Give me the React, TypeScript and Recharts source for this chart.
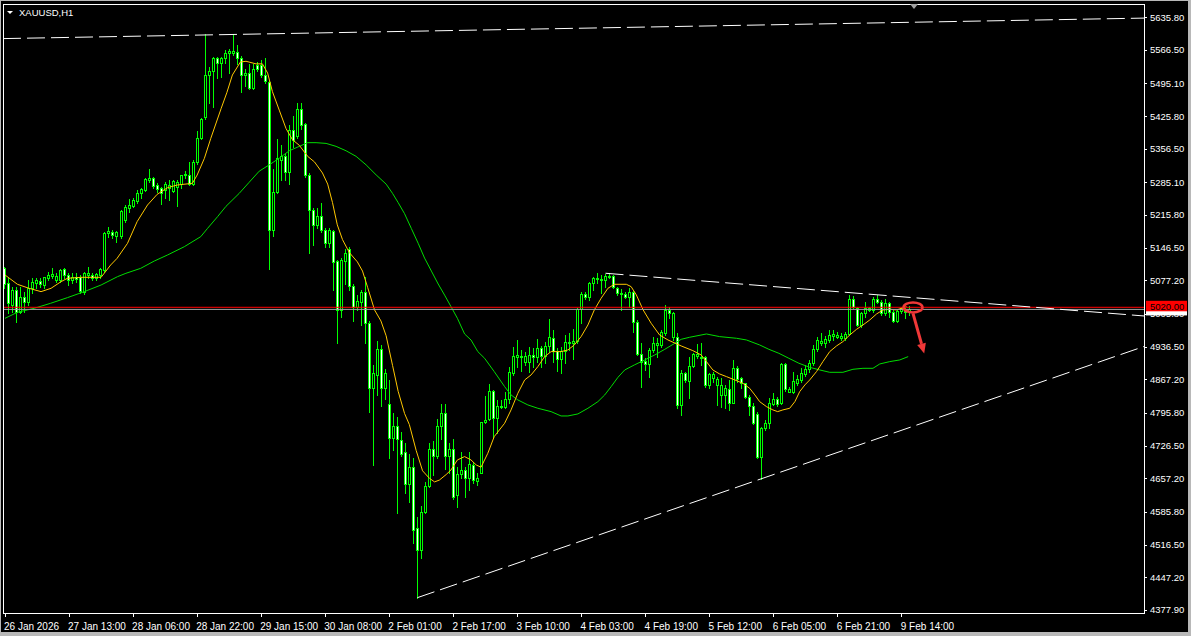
import React from 'react'
import { ComposedChart, Bar, Line, XAxis, YAxis, ReferenceLine, ReferenceDot } from 'recharts'

// XAUUSD H1 candles (26 Jan 20:00 .. 9 Feb 16:00)
const OPEN = [
  5104.1, 5070.9, 5024.9, 5056.7, 5010.8, 5042.6, 5032.0, 5060.3, 5070.9, 5076.5,
  5067.4, 5082.9, 5087.1, 5077.9, 5077.9, 5100.6, 5088.6, 5077.9, 5085.0, 5085.0,
  5053.2, 5088.6, 5088.6, 5081.5, 5088.6, 5099.2, 5176.9, 5179.0, 5172.0, 5172.0,
  5205.2, 5229.9, 5235.6, 5245.5, 5261.8, 5268.8, 5290.1, 5293.6, 5279.4, 5272.4,
  5268.8, 5272.4, 5266.7, 5275.9, 5281.5, 5300.6, 5300.6, 5281.5, 5327.5, 5378.4,
  5424.4, 5512.7, 5521.2, 5548.1, 5537.5, 5548.1, 5558.7, 5559.9, 5562.3, 5549.7,
  5512.8, 5516.8, 5485.4, 5534.0, 5534.0, 5512.8, 5497.2, 5183.2, 5265.6, 5332.4,
  5340.2, 5306.5, 5395.1, 5383.4, 5439.9, 5408.5, 5301.0, 5226.4, 5195.0, 5213.0,
  5184.8, 5155.8, 5180.9, 5118.1, 5014.5, 5118.9, 5144.0, 5065.5, 5020.8, 5031.8,
  5052.2, 4987.0, 4849.7, 4877.2, 4932.1, 4849.7, 4814.4, 4743.7, 4767.3, 4738.3,
  4712.4, 4645.6, 4681.0, 4551.5, 4504.4, 4586.8, 4641.7, 4720.2, 4704.5, 4767.3,
  4794.8, 4704.5, 4720.2, 4622.0, 4666.5, 4675.0, 4657.3, 4685.6, 4652.4, 4669.3,
  4776.1, 4782.5, 4842.6, 4784.6, 4809.3, 4809.3, 4824.9, 4881.4, 4914.0, 4914.0,
  4903.4, 4903.4, 4918.9, 4915.4, 4933.0, 4916.8, 4938.0, 4955.7, 4928.1, 4909.7,
  4928.1, 4943.6, 4943.6, 4948.6, 5015.8, 5048.3, 5042.6, 5070.9, 5079.4, 5078.0,
  5078.0, 5085.0, 5086.5, 5060.3, 5048.3, 5048.3, 5041.2, 5053.2, 4989.6, 4920.3,
  4906.2, 4899.8, 4929.5, 4940.1, 4940.1, 4966.3, 5014.4, 4957.8, 4957.8, 4812.9,
  4881.4, 4864.5, 4895.6, 4916.8, 4915.4, 4914.0, 4855.3, 4869.4, 4855.3, 4834.1,
  4834.1, 4846.1, 4817.8, 4890.6, 4869.4, 4858.8, 4829.1, 4811.4, 4793.8, 4703.3,
  4763.4, 4774.0, 4815.0, 4824.9, 4816.4, 4899.1, 4841.1, 4841.1, 4860.2, 4865.9,
  4878.6, 4888.5, 4901.3, 4930.9, 4945.1, 4943.6, 4950.7, 4959.9, 4957.8, 4954.3,
  4954.3, 4963.4, 5037.0, 5017.9, 4982.5, 5007.3, 5014.4, 5014.4, 5037.0, 5032.0,
  5007.3, 5028.5, 5010.8, 4991.7, 5012.9, 5015.8, 5010.8,
]
const HIGH = [
  5106.2, 5081.5, 5063.8, 5063.8, 5063.8, 5053.2, 5077.9, 5081.5, 5081.5, 5081.5,
  5085.0, 5095.6, 5102.7, 5092.1, 5100.6, 5102.7, 5092.1, 5092.1, 5092.1, 5088.6,
  5095.6, 5104.8, 5092.1, 5092.1, 5102.7, 5180.5, 5191.1, 5184.0, 5181.9, 5226.4,
  5237.0, 5249.7, 5251.2, 5268.8, 5273.8, 5293.6, 5313.4, 5297.1, 5283.0, 5275.9,
  5286.5, 5290.1, 5290.1, 5290.1, 5300.6, 5309.1, 5327.5, 5332.5, 5394.0, 5420.8,
  5599.0, 5530.4, 5551.6, 5551.6, 5551.6, 5565.8, 5567.9, 5599.2, 5575.6, 5552.1,
  5524.6, 5536.4, 5536.4, 5540.3, 5544.2, 5549.7, 5501.1, 5312.7, 5377.1, 5363.7,
  5348.0, 5406.9, 5426.5, 5452.4, 5452.4, 5410.8, 5304.9, 5230.3, 5230.3, 5242.1,
  5188.7, 5188.7, 5183.2, 5120.5, 5124.4, 5144.0, 5147.9, 5069.4, 5045.9, 5057.7,
  5085.1, 4991.0, 4896.8, 4947.8, 4940.0, 4888.9, 4865.4, 4794.8, 4786.9, 4755.5,
  4732.0, 4708.4, 4700.6, 4575.0, 4598.6, 4649.6, 4732.0, 4735.9, 4783.0, 4814.4,
  4814.4, 4732.0, 4739.8, 4682.1, 4713.9, 4682.1, 4713.9, 4692.7, 4667.9, 4777.5,
  4832.0, 4857.4, 4844.7, 4823.5, 4823.5, 4841.1, 4894.2, 4936.6, 4950.7, 4929.5,
  4926.0, 4936.6, 4933.0, 4952.8, 4938.0, 4947.2, 4994.6, 4971.9, 4933.0, 4935.2,
  4961.3, 4966.3, 4974.0, 5017.9, 5053.2, 5053.2, 5074.4, 5085.0, 5092.1, 5088.6,
  5090.7, 5092.1, 5088.6, 5063.8, 5058.2, 5053.2, 5060.3, 5055.4, 4993.1, 4943.6,
  4911.8, 4933.0, 4957.8, 4954.3, 4971.9, 5025.0, 5021.4, 5010.8, 4964.9, 4887.1,
  4883.6, 4915.4, 4922.4, 4941.5, 4943.6, 4916.8, 4881.4, 4883.6, 4872.9, 4869.4,
  4855.3, 4865.9, 4908.3, 4895.6, 4872.9, 4860.2, 4834.1, 4816.4, 4798.7, 4766.9,
  4781.0, 4827.0, 4837.6, 4829.1, 4901.3, 4901.3, 4851.7, 4883.6, 4876.5, 4890.6,
  4897.7, 4908.3, 4940.1, 4957.8, 4964.9, 4959.2, 4971.9, 4971.9, 4968.4, 4964.9,
  4968.4, 5046.2, 5044.0, 5021.4, 5010.8, 5032.0, 5021.4, 5042.6, 5046.2, 5035.6,
  5037.0, 5032.0, 5014.4, 5014.4, 5021.4, 5017.9, 5022.8,
]
const LOW = [
  5060.3, 5007.2, 5010.8, 4989.6, 5008.0, 5010.8, 5024.9, 5049.7, 5060.3, 5063.8,
  5060.3, 5077.9, 5081.5, 5074.4, 5074.4, 5081.5, 5067.4, 5070.9, 5074.4, 5049.7,
  5047.5, 5081.5, 5077.9, 5077.9, 5081.5, 5095.6, 5169.9, 5166.3, 5157.8, 5166.3,
  5201.7, 5222.9, 5233.5, 5240.6, 5251.2, 5266.7, 5286.5, 5272.4, 5265.3, 5239.1,
  5251.2, 5247.6, 5265.3, 5234.9, 5273.8, 5293.6, 5279.4, 5279.4, 5323.3, 5377.0,
  5419.4, 5452.7, 5445.6, 5505.7, 5509.2, 5537.5, 5517.7, 5556.0, 5536.4, 5477.5,
  5489.3, 5483.8, 5483.8, 5520.7, 5508.9, 5494.8, 5100.8, 5171.5, 5261.7, 5289.2,
  5289.2, 5281.3, 5359.8, 5379.4, 5399.1, 5297.0, 5136.2, 5151.8, 5187.2, 5179.3,
  5147.9, 5147.9, 5057.7, 4943.9, 4998.8, 5069.4, 5057.7, 4991.0, 5014.5, 4983.1,
  4943.9, 4798.7, 4684.9, 4834.0, 4810.5, 4826.2, 4700.6, 4716.3, 4582.9, 4704.5,
  4626.0, 4606.4, 4520.1, 4404.0, 4488.7, 4582.9, 4637.8, 4665.3, 4700.6, 4739.8,
  4677.0, 4669.2, 4614.3, 4597.2, 4657.3, 4618.4, 4632.6, 4648.1, 4643.2, 4667.9,
  4774.0, 4781.0, 4745.7, 4752.8, 4805.8, 4805.8, 4816.4, 4876.5, 4894.2, 4885.7,
  4898.0, 4883.6, 4894.2, 4904.8, 4894.2, 4901.3, 4926.0, 4904.8, 4885.7, 4881.4,
  4902.6, 4929.5, 4910.4, 4943.6, 4986.1, 5037.0, 5035.6, 5056.8, 5070.9, 5049.7,
  5063.8, 5081.5, 5060.3, 5046.2, 5014.4, 5039.1, 5021.4, 4968.4, 4918.9, 4850.3,
  4887.1, 4873.0, 4926.0, 4915.4, 4936.6, 4961.3, 4996.7, 4950.7, 4805.8, 4791.6,
  4862.3, 4827.0, 4894.2, 4911.8, 4897.7, 4851.7, 4848.2, 4862.3, 4812.9, 4809.3,
  4805.8, 4802.3, 4816.4, 4862.3, 4848.2, 4827.0, 4791.6, 4772.6, 4699.7, 4655.2,
  4759.8, 4763.4, 4812.9, 4810.7, 4815.0, 4843.3, 4839.7, 4839.0, 4855.3, 4862.3,
  4874.4, 4883.6, 4897.7, 4928.1, 4940.1, 4935.2, 4947.2, 4950.7, 4954.3, 4950.7,
  4950.7, 4961.3, 5017.9, 4980.4, 4979.0, 5000.2, 5012.9, 5010.8, 5028.5, 5003.7,
  5003.7, 5000.2, 4989.6, 4989.6, 5007.3, 4996.7, 5003.7,
]
const CLOSE = [
  5068.8, 5028.5, 5056.7, 5010.8, 5042.6, 5032.0, 5060.3, 5074.4, 5077.9, 5068.8,
  5083.6, 5088.6, 5090.0, 5087.1, 5099.2, 5088.6, 5077.9, 5085.0, 5080.1, 5054.6,
  5092.1, 5092.1, 5081.5, 5090.0, 5100.6, 5176.9, 5181.9, 5173.4, 5180.5, 5224.3,
  5233.5, 5237.0, 5247.6, 5261.8, 5271.0, 5292.2, 5295.0, 5278.0, 5270.3, 5261.8,
  5281.5, 5279.4, 5287.9, 5286.5, 5300.6, 5302.0, 5281.5, 5328.9, 5378.4, 5418.7,
  5512.7, 5521.2, 5548.1, 5537.5, 5549.5, 5558.7, 5563.7, 5563.9, 5549.7, 5512.8,
  5516.8, 5485.4, 5524.6, 5524.6, 5512.8, 5499.5, 5183.2, 5264.1, 5336.3, 5340.2,
  5306.5, 5395.1, 5375.5, 5439.9, 5406.9, 5301.0, 5226.4, 5195.0, 5214.6, 5184.8,
  5155.8, 5183.2, 5116.5, 5014.5, 5120.5, 5136.2, 5065.5, 5020.8, 5034.1, 5052.2,
  4987.0, 4849.7, 4881.1, 4932.1, 4849.7, 4881.1, 4743.7, 4767.3, 4739.8, 4708.4,
  4645.6, 4681.0, 4547.6, 4504.4, 4586.8, 4641.7, 4720.2, 4704.5, 4767.3, 4794.8,
  4704.5, 4720.2, 4618.2, 4666.5, 4675.0, 4657.3, 4687.7, 4653.8, 4657.3, 4776.1,
  4781.0, 4842.6, 4784.6, 4810.7, 4811.4, 4824.9, 4882.1, 4917.5, 4918.2, 4916.8,
  4917.5, 4918.9, 4915.4, 4933.0, 4917.5, 4938.0, 4956.4, 4928.1, 4909.7, 4928.1,
  4945.8, 4947.2, 4948.6, 5015.8, 5048.3, 5042.6, 5070.9, 5081.5, 5081.5, 5080.1,
  5086.5, 5086.5, 5063.8, 5049.7, 5051.1, 5041.2, 5053.2, 4989.6, 4921.0, 4904.8,
  4899.8, 4929.5, 4943.6, 4945.1, 4968.4, 5014.4, 5007.3, 5007.3, 4812.9, 4881.4,
  4865.9, 4895.6, 4920.3, 4920.3, 4911.8, 4855.3, 4877.9, 4877.9, 4867.3, 4855.3,
  4848.2, 4817.8, 4890.6, 4868.0, 4858.8, 4829.1, 4811.4, 4775.4, 4703.3, 4763.4,
  4774.0, 4816.4, 4824.9, 4815.0, 4899.1, 4846.1, 4846.1, 4863.8, 4867.3, 4880.0,
  4888.5, 4901.3, 4930.9, 4950.7, 4948.6, 4952.8, 4961.3, 4963.4, 4961.3, 4959.2,
  4963.4, 5037.0, 5021.4, 4982.5, 5007.3, 5017.9, 5017.9, 5037.0, 5032.0, 5007.3,
  5028.5, 5010.8, 4991.7, 5012.9, 5017.9, 5010.8, 5015.5,
]

// moving averages as [bar index, price]
const FAST_MA: [number, number][] = [
  [0, 5088.6], [3.1, 5068.8], [6, 5060.3], [9, 5053.2], [11.5, 5060.3], [14, 5074.4],
  [15.6, 5081.5], [19, 5083.6], [24, 5083.6], [26.4, 5109.8], [28, 5123.9], [30.6, 5155.7],
  [33, 5201.7], [35.6, 5237.0], [38, 5259.6], [40.6, 5273.8], [43, 5279.4], [46.8, 5283.0],
  [48, 5300.6], [49.8, 5336.0], [51.4, 5378.4], [54, 5442.1], [55.4, 5475], [56.8, 5512.8],
  [58.8, 5540.3], [60.2, 5541.9], [62.7, 5536.4], [64.3, 5536.4], [65.6, 5516.8], [66.8, 5477.5],
  [68.5, 5438.3], [70.2, 5399.1], [71.8, 5375.5], [73.5, 5363.7], [75.6, 5340.2], [77.3, 5328.4],
  [79.3, 5304.9], [80.6, 5281.3], [81.8, 5242.1], [83, 5195.0], [84.3, 5163.6], [86, 5136.2],
  [88, 5116.5], [89.3, 5096.9], [90.6, 5061.6], [92.3, 5014.5], [93.9, 4991.0], [95.2, 4959.6],
  [96.8, 4896.8], [98.2, 4841.8], [99.8, 4794.8], [101, 4771.2], [102.7, 4716.3], [104.3, 4673.1],
  [106, 4657.4], [107.3, 4649.6], [108.5, 4653.5], [110.2, 4665.3], [111.4, 4675.0], [113, 4696.2],
  [114.8, 4703.3], [116.4, 4696.2], [117.7, 4685.6], [118.9, 4680.7], [120.6, 4710.3], [122.2, 4745.7],
  [124.8, 4774.0], [126.4, 4802.3], [128.1, 4837.6], [129.8, 4865.9], [131.4, 4876.5], [133.1, 4894.2],
  [134.8, 4915.4], [136.4, 4926.0], [138.9, 4926.0], [140.6, 4929.5], [142.2, 4940.1], [143.9, 4957.8],
  [145.6, 4982.5], [147.2, 5014.4], [148.9, 5039.1], [150.6, 5060.3], [152.2, 5068.8], [155.2, 5068.8],
  [156.4, 5063.8], [157.7, 5046.2], [159.4, 5014.4], [161.4, 4986.1], [163.5, 4961.3], [165.6, 4950.7],
  [168.9, 4938.0], [171.8, 4928.1], [173.9, 4918.9], [175.2, 4904.8], [176.8, 4887.1], [178.5, 4878.6],
  [180.2, 4873.0], [182.3, 4865.9], [184.3, 4858.8], [186, 4848.2], [187.3, 4834.1], [188.5, 4819.9],
  [190.2, 4809.3], [191.8, 4802.3], [193, 4798.7], [194.3, 4802.3], [196, 4805.8], [197.3, 4819.9],
  [198.5, 4841.1], [199.8, 4855.3], [201, 4865.9], [202.7, 4883.6], [204.3, 4904.8], [206, 4926.0],
  [207.7, 4938.0], [209.3, 4947.2], [211, 4961.3], [212.7, 4973.3], [214.3, 4982.5], [216, 4993.1],
  [217.7, 5005.9], [219.3, 5014.4], [221, 5015.8], [222.7, 5014.4], [225.2, 5021.4],
]
const SLOW_MA: [number, number][] = [
  [0, 4996.6], [3.1, 5009.4], [7.3, 5017.9], [11.4, 5028.5], [15.6, 5040.5], [19.8, 5053.2],
  [24, 5067.3], [28.1, 5085.0], [30.2, 5092.1], [33.9, 5102.7], [37.3, 5118.2], [40.6, 5131.0],
  [44.8, 5148.6], [48.9, 5169.9], [50.6, 5187.5], [53.1, 5212.3], [55.2, 5234.2], [58.5, 5261.7],
  [61, 5285.3], [63.5, 5308.8], [66, 5322.1], [68.5, 5336.3], [71, 5352.0], [73.5, 5361.4],
  [75.6, 5369.2], [77.7, 5369.2], [80.2, 5367.7], [82.7, 5361.4], [85.2, 5352.0], [87.7, 5340.2],
  [90.2, 5322.1], [92.7, 5300.9], [95.2, 5281.3], [96.8, 5261.7], [98.2, 5242.1], [99.8, 5218.6],
  [101.5, 5187.2], [103.2, 5155.8], [104.8, 5124.4], [106.5, 5096.9], [108.2, 5069.4], [109.8, 5045.9],
  [111.4, 5021.4], [113, 4996.7], [114.8, 4963.4], [116.4, 4950.7], [118.1, 4926.0], [119.8, 4911.8],
  [122.2, 4883.6], [124.8, 4851.7], [126.4, 4834.1], [128.1, 4823.5], [130.6, 4812.9], [133.1, 4805.8],
  [136.4, 4798.7], [138.9, 4789.5], [140.6, 4789.5], [143.1, 4793.8], [145.6, 4805.8], [148.1, 4819.9],
  [149.8, 4834.1], [151.4, 4851.7], [153.1, 4871.5], [154.8, 4887.1], [157.2, 4897.7], [159.8, 4908.3],
  [162.3, 4918.9], [164.8, 4930.9], [167.3, 4943.6], [168.9, 4952.1], [171, 4956.4], [175.2, 4963.4],
  [178.5, 4957.8], [182.7, 4954.3], [185.2, 4950.7], [188.5, 4940.1], [190.8, 4930.9], [193.3, 4922.4],
  [195.8, 4911.8], [198.3, 4901.3], [201, 4892.7], [203.5, 4887.1], [206, 4882.1], [209.3, 4882.1],
  [211.8, 4888.5], [214.3, 4890.6], [216.8, 4890.6], [218.5, 4899.8], [221, 4904.8], [223.5, 4908.3],
  [225.6, 4915.4],
]

const PRICE_TICKS = [
  5635.8, 5566.5, 5495.1, 5425.8, 5356.5, 5285.1, 5215.8, 5146.5, 5077.2, 5005.8,
  4936.5, 4867.2, 4795.8, 4726.5, 4657.2, 4585.8, 4516.5, 4447.2, 4377.9,
]
const TIME_LABELS = [
  '26 Jan 2026', '27 Jan 13:00', '28 Jan 06:00', '28 Jan 22:00', '29 Jan 15:00',
  '30 Jan 08:00', '2 Feb 01:00', '2 Feb 17:00', '3 Feb 10:00', '4 Feb 03:00',
  '4 Feb 19:00', '5 Feb 12:00', '6 Feb 05:00', '6 Feb 21:00', '9 Feb 14:00',
]
const ALERT_PRICE = 5020
const BID_PRICE = 5015.5

// trend lines, [bar index, price] pairs
const TREND_TOP: [number, number][] = [[-0.5, 5590.0], [284.5, 5633.5]]
const TREND_DOWN: [number, number][] = [[150, 5092.2], [284.5, 5001.6]]
const TREND_UP: [number, number][] = [[103, 4404.0], [284.5, 4936.9]]
const MARK_POINT: [number, number] = [226.8, 5019.7]
const ARROW: [number, number][] = [[226.8, 5007], [229.6, 4922]]

const SLOTS = 285
const GREEN = '#00ff00'
const FONT = 'Liberation Sans, Arial, sans-serif'

const rows = Array.from({ length: SLOTS }, (_, i) =>
  i < OPEN.length ? { i, o: OPEN[i], h: HIGH[i], l: LOW[i], c: CLOSE[i] } : { i }
)
const fastData = FAST_MA.map(([i, v]) => ({ i, v }))
const slowData = SLOW_MA.map(([i, v]) => ({ i, v }))
const seg = (s: [number, number][]) => s.map(([x, y]) => ({ x, y }))
const timeTicks = TIME_LABELS.map((_, k) => k * 16)

function Candle(props: any) {
  const { x, y, width, height, payload } = props
  if (!payload || payload.h == null || y == null) return <g />
  const top = Math.min(y, y + height)
  const bot = Math.max(y, y + height)
  const span = payload.h - payload.l
  const py = (p: number) => (span === 0 ? top : top + ((payload.h - p) / span) * (bot - top))
  const cx = Math.floor(x + width / 2) + 0.5
  const yo = py(payload.o)
  const yc = py(payload.c)
  const bTop = Math.round(Math.min(yo, yc)) + 0.5
  const bBot = Math.round(Math.max(yo, yc)) + 0.5
  const bull = payload.c >= payload.o
  return (
    <g>
      <line x1={cx} x2={cx} y1={Math.round(top)} y2={Math.round(bot) + 1} stroke={GREEN} />
      {bBot - bTop < 1 ? (
        <line x1={cx - 1.5} x2={cx + 1.5} y1={bTop} y2={bTop} stroke={GREEN} />
      ) : (
        <rect x={cx - 1} y={bTop} width={2} height={bBot - bTop} fill={bull ? '#000' : '#fff'} stroke={GREEN} />
      )}
    </g>
  )
}

function PriceTick(props: any) {
  const { x, y, payload } = props
  const v = payload.value
  if (v === ALERT_PRICE) {
    return (
      <g>
        <rect x={x + 2} y={y - 6.5} width={41} height={10.5} fill="#ff0000" />
        <text x={x + 6} y={y + 3} fill="#000" fontSize={9.5} fontFamily={FONT}>{v.toFixed(2)}</text>
      </g>
    )
  }
  if (v === BID_PRICE) {
    // current-price box, almost fully covered by the alert label
    return <rect x={x + 2} y={y - 4} width={41} height={10} fill="#fff" />
  }
  return (
    <g>
      <line x1={x} x2={x + 3} y1={Math.round(y) + 0.5} y2={Math.round(y) + 0.5} stroke="#fff" />
      <text x={x + 6} y={y + 3.5} fill="#fff" fontSize={9.5} fontFamily={FONT}>{v.toFixed(2)}</text>
    </g>
  )
}

function TimeTick(props: any) {
  const { x, y, payload } = props
  const lx = Math.floor(x) + 0.5
  return (
    <g>
      <line x1={lx} x2={lx} y1={y} y2={y + 4} stroke="#fff" />
      <text x={x - 1} y={y + 17} fill="#fff" fontSize={10} fontFamily={FONT}>
        {TIME_LABELS[payload.value / 16]}
      </text>
    </g>
  )
}

function ArrowShape(props: any) {
  const { x1, y1, x2, y2 } = props
  const ang = Math.atan2(y2 - y1, x2 - x1)
  const len = 10
  const bx = x2 - len * Math.cos(ang)
  const by = y2 - len * Math.sin(ang)
  const nx = -Math.sin(ang) * 4.5
  const ny = Math.cos(ang) * 4.5
  return (
    <g>
      <line x1={x1} y1={y1} x2={bx} y2={by} stroke="#f03838" strokeWidth={3} />
      <polygon points={`${x2},${y2} ${bx + nx},${by + ny} ${bx - nx},${by - ny}`} fill="#f03838" />
    </g>
  )
}

export default function App() {
  return (
    <div style={{ position: 'relative', width: 1191, height: 636, background: '#000', overflow: 'hidden' }}>
      <style>{'body{margin:0;background:#000}'}</style>
      <ComposedChart width={1191} height={636} data={rows} margin={{ top: 4, right: 0, bottom: 0, left: 3 }}>
        <XAxis
          xAxisId="c"
          dataKey="i"
          type="category"
          ticks={timeTicks}
          interval={0}
          height={23}
          axisLine={false}
          tickLine={false}
          tickSize={0}
          tickMargin={0}
          tick={<TimeTick />}
        />
        <XAxis xAxisId="n" dataKey="i" type="number" domain={[-0.5, SLOTS - 0.5]} allowDataOverflow hide />
        <YAxis
          orientation="right"
          width={47}
          domain={[4371.5, 5663.4]}
          allowDataOverflow
          ticks={[...PRICE_TICKS, BID_PRICE, ALERT_PRICE]}
          interval={0}
          axisLine={false}
          tickLine={false}
          tickSize={0}
          tickMargin={0}
          tick={<PriceTick />}
        />
        <Line xAxisId="n" data={slowData} dataKey="v" type="linear" stroke="#00dd00" strokeWidth={1} dot={false} isAnimationActive={false} />
        <Bar xAxisId="c" dataKey={(d: any) => (d.h == null ? null : [d.l, d.h])} shape={(p: any) => <Candle {...p} />} isAnimationActive={false} />
        <Line xAxisId="n" data={fastData} dataKey="v" type="linear" stroke="#ffc800" strokeWidth={1} dot={false} isAnimationActive={false} />
        <ReferenceLine xAxisId="n" y={BID_PRICE} stroke="#a0a0a0" />
        <ReferenceLine xAxisId="n" y={ALERT_PRICE} stroke="#ff0000" />
        <ReferenceLine xAxisId="n" segment={seg(TREND_TOP)} stroke="#fff" strokeDasharray="18 6" ifOverflow="visible" />
        <ReferenceLine xAxisId="n" segment={seg(TREND_DOWN)} stroke="#fff" strokeDasharray="18 6" ifOverflow="visible" />
        <ReferenceLine xAxisId="n" segment={seg(TREND_UP)} stroke="#fff" strokeDasharray="18 6" ifOverflow="visible" />
        <ReferenceDot
          xAxisId="n"
          x={MARK_POINT[0]}
          y={MARK_POINT[1]}
          ifOverflow="visible"
          shape={(p: any) => <ellipse cx={p.cx} cy={p.cy} rx={9.5} ry={5} fill="none" stroke="#f03838" strokeWidth={2.5} />}
        />
        <ReferenceLine xAxisId="n" segment={seg(ARROW)} ifOverflow="visible" shape={(p: any) => <ArrowShape {...p} />} />
      </ComposedChart>
      <div style={{ position: 'absolute', left: 3, top: 4, width: 1142, height: 610, border: '1px solid #fff', boxSizing: 'border-box', pointerEvents: 'none' }} />
      <svg style={{ position: 'absolute', left: 0, top: 0, pointerEvents: 'none' }} width={1191} height={636}>
        <polygon points="7,11 13,11 10,14" fill="#fff" />
        <text x={19} y={16} fill="#fff" fontSize={9.5} fontFamily={FONT}>XAUUSD,H1</text>
        <polygon points="910,4 918,4 914,9" fill="#a0a0a0" />
      </svg>
      <div style={{ position: 'absolute', inset: 0, borderTop: '1px solid #b8b8b8', borderLeft: '1px solid #b8b8b8', borderRight: '3px solid #b8b8b8', borderBottom: '4px solid #b8b8b8', pointerEvents: 'none' }} />
    </div>
  )
}
